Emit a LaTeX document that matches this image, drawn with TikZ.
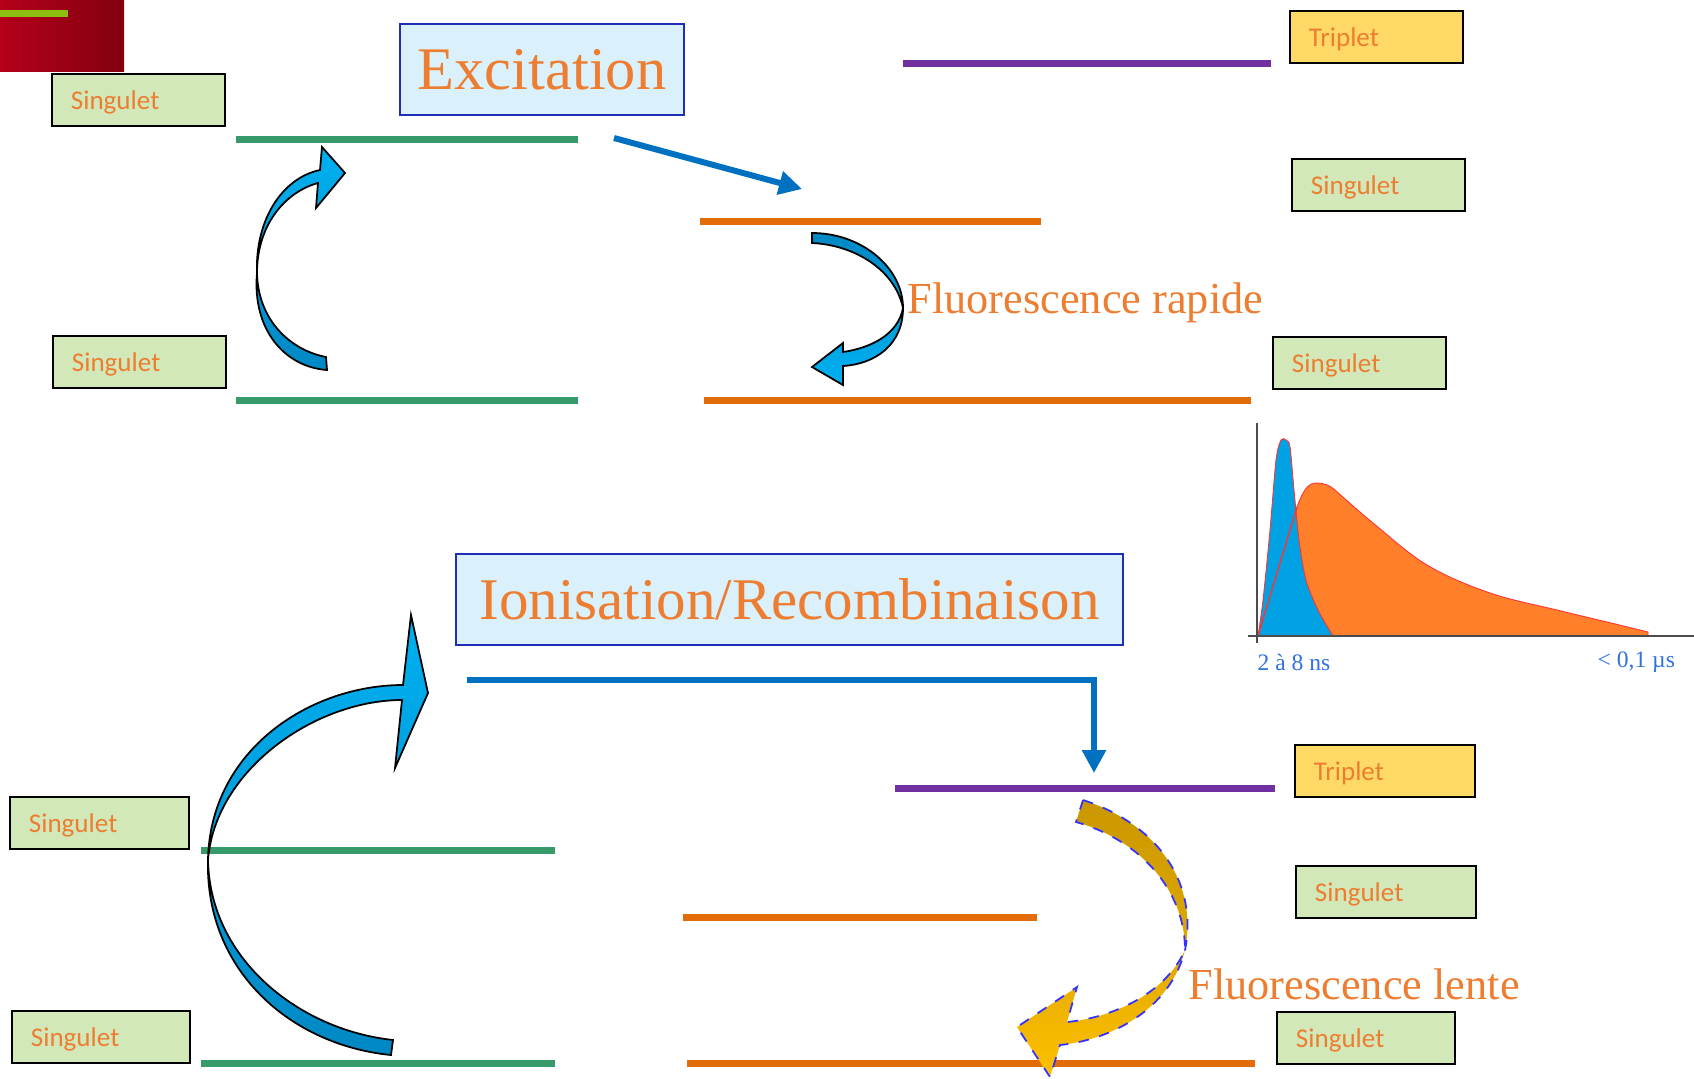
\documentclass[tikz,border=0pt]{standalone}
\usepackage{fontspec}
\setsansfont{Carlito}
\newfontfamily\ttlfont{Liberation Serif}
\usepackage{tikz}
\usetikzlibrary{arrows.meta}

\definecolor{lvlgreen}{HTML}{379A6A}
\definecolor{lvlorange}{HTML}{E36C0A}
\definecolor{lvlpurple}{HTML}{7030A0}
\definecolor{arrblue}{HTML}{0070C0}
\definecolor{labor}{HTML}{ED7D31}
\definecolor{singfill}{HTML}{D2E8B9}
\definecolor{tripfill}{HTML}{FFD966}
\definecolor{ttlfill}{HTML}{DAF0FA}
\definecolor{ttlblue}{HTML}{1F2EB5}
\definecolor{cyanA}{HTML}{00B0F0}
\definecolor{cyanB}{HTML}{0088C4}
\definecolor{goldA}{HTML}{C99700}
\definecolor{goldB}{HTML}{FFC000}
\definecolor{plotblue}{HTML}{00A2E3}
\definecolor{plotor}{HTML}{FF7F2A}
\definecolor{plotlab}{HTML}{3070E0}
\definecolor{redA}{HTML}{B5001A}
\definecolor{redB}{HTML}{82000F}
\definecolor{barg}{HTML}{8CBF10}

\begin{document}
\begin{tikzpicture}[x=0.01cm,y=-0.01cm,
	lvl/.style={line width=0.07cm},
	lvlbox/.style={draw=black,line width=0.5pt,anchor=north west,minimum height=0.52cm,
		text width=#1,inner xsep=0.19cm,inner ysep=0pt,align=left,text=labor,text depth=0pt,
		font=\sffamily\fontsize{7.7}{9}\selectfont},
	sing/.style={lvlbox=#1,fill=singfill},
	sing/.default=1.35cm,
	trip/.style={lvlbox=#1,fill=tripfill},
	trip/.default=1.35cm,
	ttlbox/.style={draw=ttlblue,line width=0.6pt,fill=ttlfill,text=labor,inner sep=0pt},
	fluo/.style={anchor=west,text=labor,inner sep=0pt,font=\ttlfont\fontsize{12.6}{15}\selectfont},
	tlab/.style={anchor=west,text=plotlab,inner sep=0pt,font=\ttlfont\fontsize{6.7}{8}\selectfont},
	blk/.style={draw=black,line width=0.5pt},
	conn/.style={draw=arrblue,line width=0.06cm,-{Triangle[length=0.23cm,width=0.23cm]}}]
	\useasboundingbox (0,0) rectangle (1694,1078);

	\shade[left color=redA,right color=redB] (0,0) rectangle (124,71);
	\fill[barg] (0,10) rectangle (68,17);

%excitation
	\node[ttlbox,minimum width=2.84cm,minimum height=0.91cm,font=\ttlfont\fontsize{17.2}{20}\selectfont] (exc) at (542,69.5) {Excitation};
	\node[sing] (sA) at (51,73) {Singulet};
	\node[sing] (sB) at (52,335) {Singulet};
	\node[trip] (tA) at (1289,10) {Triplet};
	\node[sing] (sC) at (1291,158) {Singulet};
	\node[sing] (sD) at (1272,336) {Singulet};

	\draw[lvl,lvlgreen] (236,139) -- (578,139);
	\draw[lvl,lvlgreen] (236,400) -- (578,400);
	\draw[lvl,lvlorange] (700,221) -- (1041,221);
	\draw[lvl,lvlorange] (704,400) -- (1251,400);
	\draw[lvl,lvlpurple] (903,63) -- (1271,63);

	\coordinate (excS) at (614,138);
	\coordinate (excE) at (802,189);
	\draw[conn] (excS) -- (excE);

	\path[blk,top color=cyanA,bottom color=cyanB]
		(326,357) .. controls (290,350) and (258,320) .. (257,273)
		.. controls (257,225) and (285,192) .. (318,183)
		-- (316,208) -- (345,173) -- (322,147) -- (320,170)
		.. controls (282,178) and (255,220) .. (257,273)
		.. controls (252,330) and (285,367) .. (327,370) -- cycle;

	\path[blk,top color=cyanB,bottom color=cyanA]
		(812,233) .. controls (862,233) and (903,268) .. (903,308)
		.. controls (903,345) and (875,364) .. (843,366)
		-- (843,385) -- (812,367) -- (843,343) -- (843,352)
		.. controls (870,348) and (898,335) .. (903,308)
		.. controls (895,270) and (855,245) .. (812,243) -- cycle;
	\node[fluo] (fr) at (907,303) {Fluorescence rapide};

%time spectrum
	\fill[plotor,draw=red!80,line width=0.25pt] (1258,636) -- (1297,507)
		.. controls (1304,488) and (1309,483) .. (1316,483)
		.. controls (1322,483) and (1328,484) .. (1335,490)
		-- plot[smooth,tension=0.6] coordinates {(1335,490) (1373,523) (1427,565) (1490,593) (1557,610) (1607,622) (1648,632)}
		-- (1648,636) -- cycle;
	\fill[plotblue,draw=red!80,line width=0.25pt] plot[smooth,tension=0.5] coordinates {(1258,636) (1263,600) (1270,530) (1276,460) (1281,440) (1286,440) (1290,447) (1294,490) (1299,540) (1306,580) (1318,610) (1333,636)} -- cycle;
	\draw[red!80,line width=0.4pt] (1258,636) -- (1297,507);
	\draw[gray!60!black,line width=0.5pt] (1257,423) -- (1257,643);
	\draw[gray!60!black,line width=0.5pt] (1248,636) -- (1694,636);
	\node[tlab] (tshort) at (1257,662) {2 à 8 ns};
	\node[tlab] (tlong) at (1597,662) {< 0,1 µs};

%ionisation / recombinaison
	\node[ttlbox,minimum width=6.67cm,minimum height=0.91cm,font=\ttlfont\fontsize{16.8}{20}\selectfont] (ion) at (789.5,599.5) {Ionisation/Recombinaison};
	\node[sing=1.41cm] (sE) at (9,796) {Singulet};
	\node[sing=1.40cm] (sF) at (11,1010) {Singulet};
	\node[trip=1.42cm] (tB) at (1294,744) {Triplet};
	\node[sing=1.42cm] (sG) at (1295,865) {Singulet};
	\node[sing=1.40cm] (sH) at (1276,1011) {Singulet};

	\draw[lvl,lvlgreen] (201,850) -- (555,850);
	\draw[lvl,lvlgreen] (201,1063) -- (555,1063);
	\draw[lvl,lvlorange] (683,917) -- (1037,917);
	\draw[lvl,lvlorange] (687,1063) -- (1255,1063);
	\draw[lvl,lvlpurple] (895,788) -- (1275,788);

	\coordinate (ionS) at (467,680);
	\coordinate (ionE) at (1094,773);
	\draw[conn] (ionS) -| (ionE);

	\path[blk,top color=cyanA,bottom color=cyanB]
		(393,1040) .. controls (300,1030) and (210,960) .. (208,860)
		.. controls (215,770) and (315,700) .. (402,700)
		-- (395,768) -- (428,693) -- (411,615) -- (403,685)
		.. controls (310,685) and (210,750) .. (208,860)
		.. controls (205,970) and (290,1045) .. (391,1055) -- cycle;

	\path[draw=blue!80,dashed,line width=0.5pt,top color=goldA,bottom color=goldB,middle color=goldA!60!goldB]
		(1083,800) .. controls (1160,825) and (1198,885) .. (1185,950)
		.. controls (1170,1010) and (1110,1040) .. (1060,1045)
		-- (1050,1077) -- (1017,1027) -- (1077,987) -- (1067,1022)
		.. controls (1110,1018) and (1165,995) .. (1185,950)
		.. controls (1185,890) and (1140,840) .. (1076,822) -- cycle;
	\node[fluo] (fl) at (1188,984) {Fluorescence lente};
\end{tikzpicture}
\end{document}
